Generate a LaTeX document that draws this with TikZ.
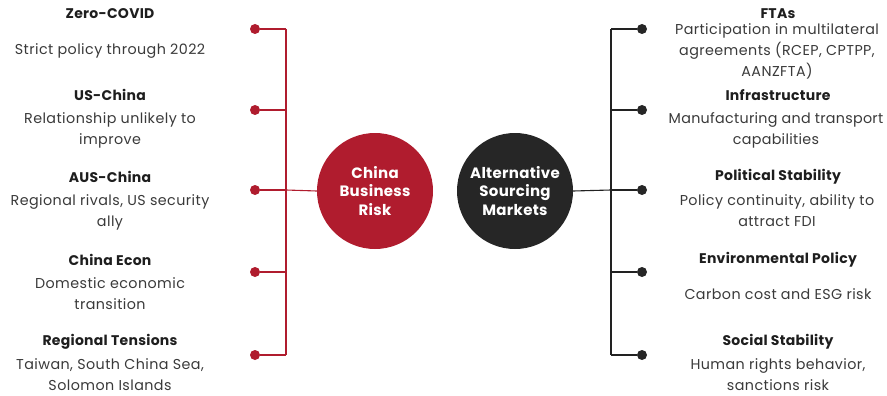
\documentclass[tikz,border=0pt]{standalone}
\usepackage{fontspec}
\setmainfont{Poppins}
\begin{document}
\begin{tikzpicture}[x=1pt,y=-1pt,
  dot/.style={circle,inner sep=0pt,minimum size=10pt},
  hub/.style={circle,inner sep=0pt,minimum size=116pt,text=white,font=\fontsize{15}{18.5}\selectfont\bfseries\addfontfeatures{LetterSpace=2},align=center},
  ttl/.style={font=\fontsize{14}{16}\selectfont\bfseries\addfontfeatures{LetterSpace=2},text=txtdark,anchor=center},
  dsc/.style={font=\fontsize{14.3}{21}\selectfont\addfontfeatures{LetterSpace=3},text=txtgray,align=center,anchor=north},
  redline/.style={draw=crimson,line width=1.1pt},
  darkline/.style={draw=darkgray!90!black,line width=1.1pt}]
\definecolor{crimson}{HTML}{B01C2E}
\definecolor{darkgray}{HTML}{262626}
\definecolor{txtdark}{HTML}{1E1E1E}
\definecolor{txtgray}{HTML}{3A3A3A}
\useasboundingbox (0,0) rectangle (887,396);

% hub circles
\node[hub,fill=crimson] (risk) at (375,191) {China\\Business\\Risk};
\node[hub,fill=darkgray] (alt) at (515,191) {Alternative\\Sourcing\\Markets};

% left spine
\coordinate (lt) at (286,29);
\coordinate (lb) at (286,355);
\coordinate (lm) at (286,190);
\draw[redline] (lt) -- (lb);
\draw[redline] (lm) -- (risk.west);
\foreach \i/\y in {1/29,2/110,3/190,4/272,5/355}{
  \node[dot,fill=crimson] (ld\i) at (255,\y) {};
  \coordinate (lj\i) at (286,\y);
  \draw[redline] (ld\i) -- (lj\i);
}

% right spine
\coordinate (rt) at (611,29);
\coordinate (rb) at (611,355);
\coordinate (rm) at (611,190);
\draw[darkline] (rt) -- (rb);
\draw[darkline] (alt.east) -- (rm);
\foreach \i/\y in {1/29,2/110,3/190,4/272,5/355}{
  \node[dot,fill=darkgray] (rd\i) at (642,\y) {};
  \coordinate (rj\i) at (611,\y);
  \draw[darkline] (rj\i) -- (rd\i);
}

% left labels
\node[ttl] (t1) at (110,14) {Zero-COVID};
\node[dsc] (d1) at (110,40) {Strict policy through 2022};
\node[ttl] (t2) at (110,95) {US-China};
\node[dsc] (d2) at (110,109) {Relationship unlikely to\\improve};
\node[ttl] (t3) at (110,177) {AUS-China};
\node[dsc] (d3) at (110,191) {Regional rivals, US security\\ally};
\node[ttl] (t4) at (110,260) {China Econ};
\node[dsc] (d4) at (110,274) {Domestic economic\\transition};
\node[ttl] (t5) at (110,342) {Regional Tensions};
\node[dsc] (d5) at (110,355) {Taiwan, South China Sea,\\Solomon Islands};

% right labels
\node[ttl] (u1) at (778,14) {FTAs};
\node[dsc] (e1) at (777,20) {Participation in multilateral\\agreements (RCEP, CPTPP,\\AANZFTA)};
\node[ttl] (u2) at (778,95) {Infrastructure};
\node[dsc,font=\fontsize{14.3}{21}\selectfont\addfontfeatures{LetterSpace=2}] (e2) at (776,109) {Manufacturing and transport\\capabilities};
\node[ttl] (u3) at (778,177) {Political Stability};
\node[dsc] (e3) at (777,191) {Policy continuity, ability to\\attract FDI};
\node[ttl] (u4) at (778,260) {Environmental Policy};
\node[dsc] (e4) at (778,285) {Carbon cost and ESG risk};
\node[ttl] (u5) at (778,342) {Social Stability};
\node[dsc] (e5) at (778,355) {Human rights behavior,\\sanctions risk};
\end{tikzpicture}
\end{document}
